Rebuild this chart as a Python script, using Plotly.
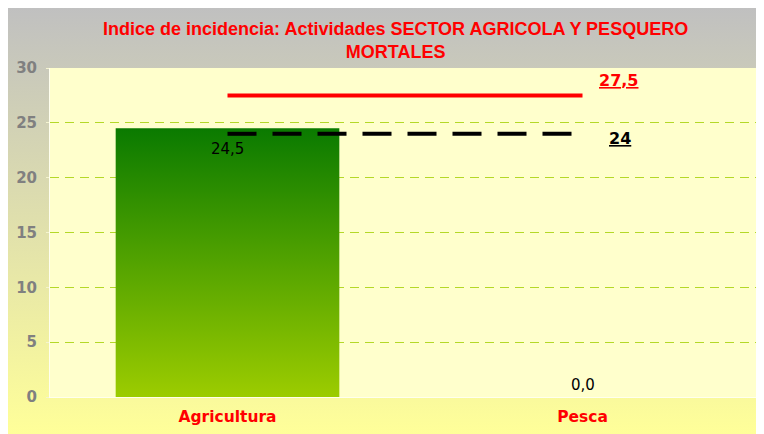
import base64
import plotly.graph_objects as go

# ---- data ----
categories = ["Agricultura", "Pesca"]
values = [24.5, 0.0]
ref_red_value = 27.5
ref_black_value = 24.0
y_ticks = [0, 5, 10, 15, 20, 25, 30]
title_lines = ["Indice de incidencia: Actividades SECTOR AGRICOLA Y PESQUERO", "MORTALES"]

def fmt(v):
    return f"{v:.1f}".replace(".", ",")

def fmt_short(v):
    return f"{v:g}".replace(".", ",")

# page body adds ~8px margin, so the figure is sized to fit the window
OFF = 8
W, H = 764 - OFF, 434 - OFF
ML, MR, MT, MB = 50 - OFF, 4, 68 - OFF, 37
pw, ph = W - ML - MR, H - MT - MB

bar_w = 0.63
xpos = list(range(len(categories)))

fig = go.Figure()

# bars drawn as filled shapes with vertical gradient
for i, v in zip(xpos, values):
    x0, x1 = i - bar_w / 2, i + bar_w / 2
    fig.add_trace(go.Scatter(
        x=[x0, x0, x1, x1, x0], y=[0, v, v, 0, 0],
        mode="lines", fill="toself", line=dict(width=0),
        fillgradient=dict(type="vertical",
                          colorscale=[[0, "#9ccc00"], [1, "#0a7a00"]],
                          start=0, stop=max(v, 0.001)),
        hoverinfo="skip", showlegend=False,
    ))

# reference lines
fig.add_trace(go.Scatter(x=[xpos[0], xpos[-1]], y=[ref_red_value] * 2, mode="lines",
                         line=dict(color="#ff0000", width=4), showlegend=False))
fig.add_trace(go.Scatter(x=[xpos[0], xpos[-1]], y=[ref_black_value] * 2, mode="lines",
                         line=dict(color="#000000", width=4, dash="29px,16px"), showlegend=False))

annotations = []
for i, v in zip(xpos, values):
    if v > 0:
        annotations.append(dict(x=i, y=v, text=fmt(v), showarrow=False, yanchor="top", yshift=-10,
                                font=dict(family="DejaVu Sans", size=15, color="#000000")))
    else:
        annotations.append(dict(x=i, y=v, text=fmt(v), showarrow=False, yanchor="bottom", yshift=1,
                                font=dict(family="DejaVu Sans", size=15, color="#000000")))
annotations.append(dict(x=xpos[-1], y=ref_red_value, text="<u>" + fmt(ref_red_value) + "</u>",
                        showarrow=False, xshift=36, yshift=15,
                        font=dict(family="DejaVu Sans", size=16, color="#ff0000", weight="bold")))
annotations.append(dict(x=xpos[-1], y=ref_black_value, text="<u>" + fmt_short(ref_black_value) + "</u>",
                        showarrow=False, xshift=37, yshift=-5,
                        font=dict(family="DejaVu Sans", size=16, color="#000000", weight="bold")))
annotations.append(dict(xref="paper", yref="paper", x=(395 - OFF - ML) / pw, y=(H - MB - (41 - OFF)) / ph,
                        text="<br>".join(title_lines), showarrow=False, xanchor="center", yanchor="middle",
                        font=dict(family="Liberation Sans", size=18, color="#ff0000", weight="bold")))

# gradient background (gray to yellow) as an SVG image covering the whole figure
svg = ('<svg xmlns="http://www.w3.org/2000/svg" width="756" height="426" preserveAspectRatio="none">'
       '<defs><linearGradient id="g" x1="0" y1="0" x2="0" y2="1">'
       '<stop offset="0" stop-color="#c0c0c0"/><stop offset="1" stop-color="#ffff99"/>'
       '</linearGradient></defs><rect width="756" height="426" fill="url(#g)"/></svg>')
src = "data:image/svg+xml;base64," + base64.b64encode(svg.encode()).decode()
images = [dict(source=src, xref="paper", yref="paper",
               x=-ML / pw, y=(H - MB) / ph,
               sizex=W / pw, sizey=H / ph,
               xanchor="left", yanchor="top", sizing="stretch", layer="below")]

shapes = [dict(type="rect", xref="paper", yref="paper", x0=0, x1=1, y0=0, y1=1,
               fillcolor="#ffffcc", line=dict(width=0), layer="below")]

fig.update_layout(
    width=W, height=H,
    margin=dict(l=ML, r=MR, t=MT, b=MB),
    paper_bgcolor="#ffff99", plot_bgcolor="rgba(0,0,0,0)",
    images=images, shapes=shapes, annotations=annotations,
    showlegend=False,
    xaxis=dict(range=[-0.5, len(categories) - 0.5], tickvals=xpos, ticktext=categories,
               showgrid=False, zeroline=False, ticks="", showline=True, linecolor="#ffffee", linewidth=1,
               tickfont=dict(family="DejaVu Sans", size=15.5, color="#ff0000", weight="bold"),
               ticklabelstandoff=5),
    yaxis=dict(range=[0, 30], tickvals=y_ticks, showgrid=True, gridcolor="#b4d828", griddash="9px,6px",
               gridwidth=1, zeroline=False, ticks="outside", ticklen=3, tickcolor="#f4f4d0",
               showline=True, linecolor="#ffffee", linewidth=1,
               tickfont=dict(family="DejaVu Sans", size=15, color="#808080", weight="bold"),
               ticklabelstandoff=6),
)

fig.write_html("out.html")
